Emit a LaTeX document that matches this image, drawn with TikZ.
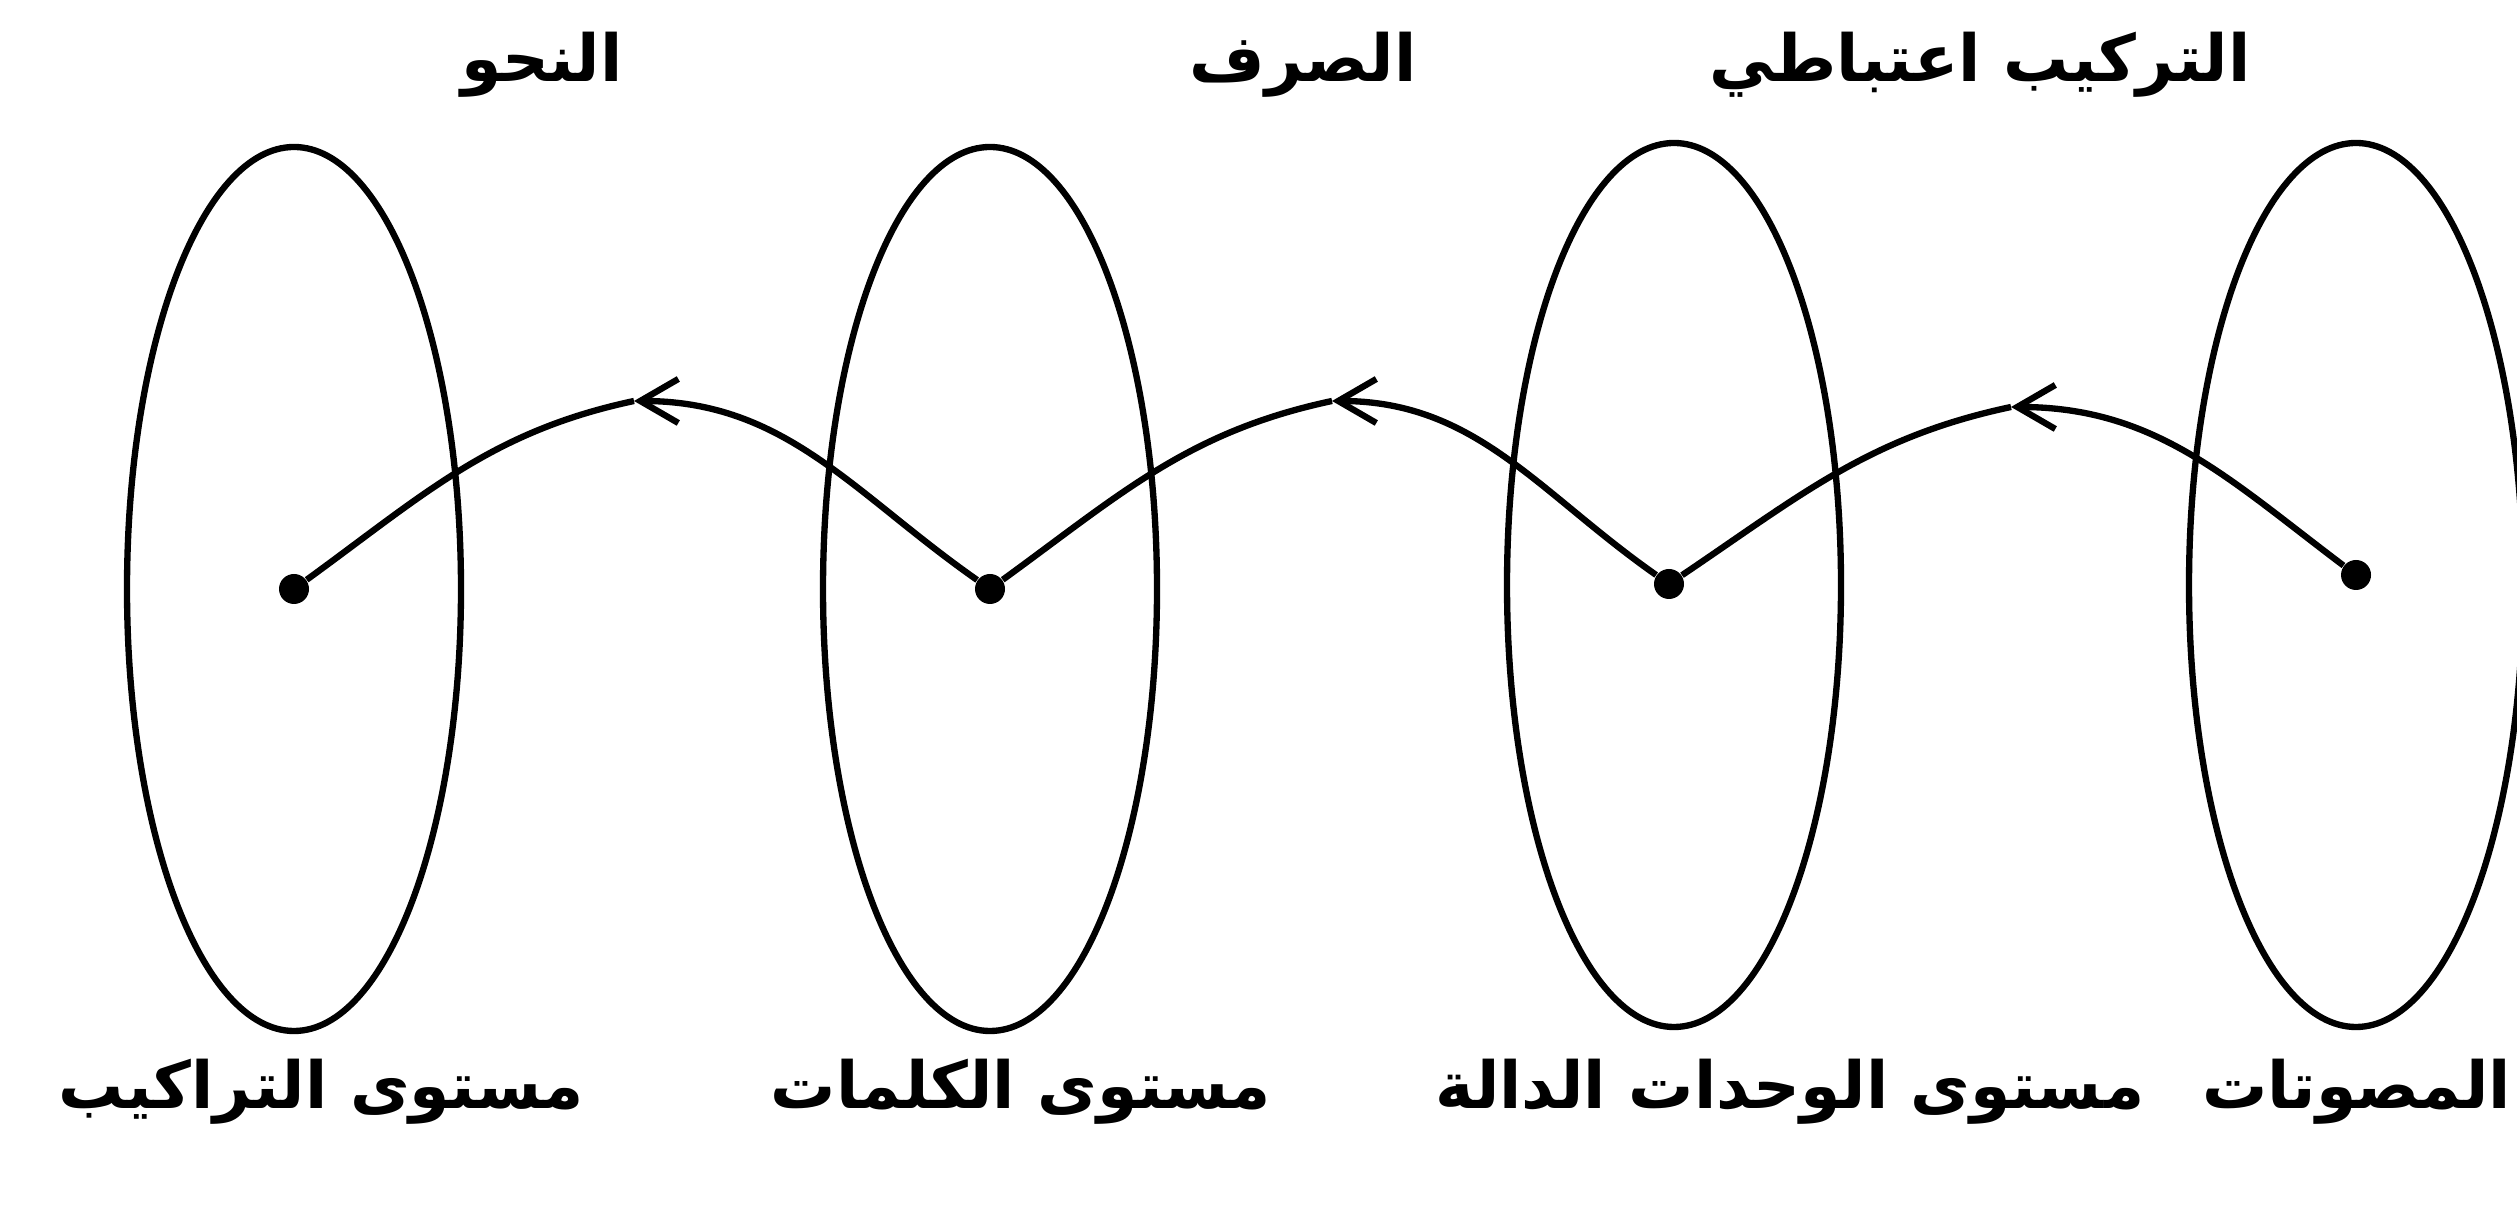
\documentclass[tikz,border=0pt]{standalone}
\usepackage{fontspec}
\usetikzlibrary{arrows.meta,shapes.geometric}
\newfontfamily\arabicfont[Script=Arabic]{DejaVu Sans}
\TeXXeTstate=1

\begin{document}
\begin{tikzpicture}[
      level/.style={ellipse,draw,line width=1.8pt,inner sep=0pt,
        minimum width=3.34cm,minimum height=8.84cm},
      dot/.style={circle,fill,minimum size=0.3cm,inner sep=0pt},
      link/.style={line width=1.8pt},
      tag/.style={font=\fontsize{18.5}{22}\selectfont\arabicfont\bfseries,inner sep=0pt,anchor=base}
    ]
      \useasboundingbox (0,0) rectangle (25.17,12.07);
      \node[level] (e1) at (2.94,6.18) {};
      \node[level] (e2) at (9.90,6.18) {};
      \node[level] (e3) at (16.74,6.22) {};
      \node[level] (e4) at (23.56,6.22) {};
      \node[dot] (p1) at (2.94,6.18) {};
      \node[dot] (p2) at (9.90,6.18) {};
      \node[dot] (p3) at (16.69,6.23) {};
      \node[dot] (p4) at (23.56,6.32) {};
      \coordinate (t1) at (6.34,8.06);
      \coordinate (t2) at (13.32,8.06);
      \coordinate (t3) at (20.11,8.00);
      \draw[link,-{Straight Barb[length=3.8mm,width=4.4mm]}] (p4) to[out=143,in=0] (t3);
      \draw[link] (t3) to[out=192,in=34] (p3);
      \draw[link,-{Straight Barb[length=3.8mm,width=4.4mm]}] (p3) to[out=145,in=0] (t2);
      \draw[link] (t2) to[out=192,in=36] (p2);
      \draw[link,-{Straight Barb[length=3.8mm,width=4.4mm]}] (p2) to[out=145,in=0] (t1);
      \draw[link] (t1) to[out=192,in=36] (p1);
      \node[tag] (top1) at (5.42,11.25) {\beginR النحو\endR};
      \node[tag] (top2) at (13.03,11.25) {\beginR الصرف\endR};
      \node[tag] (top3) at (19.80,11.25) {\beginR التركيب اعتباطي\endR};
      \node[tag] (bot1) at (3.21,0.98) {\beginR مستوى التراكيب\endR};
      \node[tag] (bot2) at (10.21,0.98) {\beginR مستوى الكلمات\endR};
      \node[tag] (bot3) at (17.90,0.98) {\beginR مستوى الوحدات الدالة\endR};
      \node[tag,anchor=base east] (bot4) at (25.12,0.98) {\beginR المصوتات\endR};
    \end{tikzpicture}
\end{document}
